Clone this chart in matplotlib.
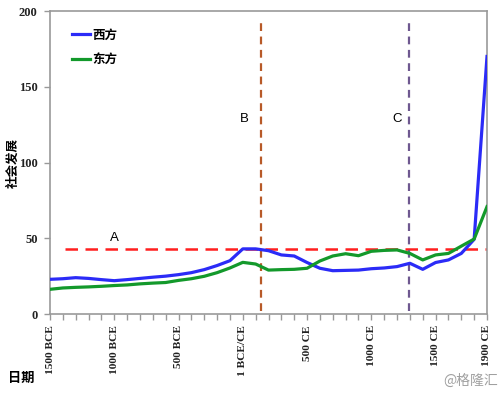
import matplotlib
matplotlib.use("Agg")
import matplotlib.pyplot as plt
from matplotlib.lines import Line2D

plt.rcParams['font.family'] = ['Noto Sans CJK SC', 'DejaVu Sans']

# centuries from 1500 BCE (index 0) to 1900 CE (index 34)
years = list(range(-1500, 2000, 100))
west = [22.9, 23.3, 24.0, 23.5, 22.7, 22.0, 22.7, 23.5, 24.3, 25.0, 26.0, 27.3,
        29.3, 32.0, 35.2, 43.0, 43.0, 41.8, 39.0, 38.3, 34.0, 30.2, 28.6, 28.8,
        29.0, 29.9, 30.4, 31.3, 33.5, 29.5, 34.0, 35.7, 40.0, 49.3, 170.0]
east = [16.3, 17.2, 17.6, 17.9, 18.3, 18.8, 19.2, 19.9, 20.4, 20.8, 22.2, 23.3,
        24.9, 27.3, 30.4, 34.1, 33.0, 29.0, 29.3, 29.5, 30.2, 35.0, 38.3, 39.8,
        38.5, 41.4, 42.0, 42.3, 40.0, 35.7, 39.0, 40.0, 44.8, 49.5, 70.9]
tick_years = [-1500, -1000, -500, 0, 500, 1000, 1500, 1900]
tick_labels = ['1500 BCE', '1000 BCE', '500 BCE', '1 BCE/CE', '500 CE', '1000 CE', '1500 CE', '1900 CE']
y_ticks = [0, 50, 100, 150, 200]
line_a = 43
line_a_start = -1380
line_b = 145
line_c = 1290
series_names = ['西方', '东方']

fig = plt.figure(figsize=(5, 3.94), dpi=100)
ax = fig.add_axes([0.1, 0.203, 0.874, 0.769])

ax.plot([line_a_start, 1900], [line_a, line_a], color='#ff1f1f', lw=1.8,
        dashes=(5, 3), zorder=2)
ax.plot([line_b, line_b], [2, 193], color='#b85a28', lw=1.6, dashes=(3.5, 2.5), zorder=2)
ax.plot([line_c, line_c], [2, 193], color='#6e5890', lw=1.6, dashes=(3.5, 2.5), zorder=2)

ax.plot(years, west, color='#2b2bf7', lw=2.3, zorder=3, solid_joinstyle='round')
ax.plot(years, east, color='#13992b', lw=2.3, zorder=3, solid_joinstyle='round')

ax.text(-1000, 50.5, 'A', fontsize=9.5, family=['Liberation Sans'], ha='center', va='center')
ax.text(15, 129, 'B', fontsize=9.5, family=['Liberation Sans'], ha='center', va='center')
ax.text(1200, 129, 'C', fontsize=9.5, family=['Liberation Sans'], ha='center', va='center')

ax.set_xlim(-1500, 1900)
ax.set_ylim(0, 200)
ax.set_yticks(y_ticks)
ax.set_yticklabels([str(v) for v in y_ticks], family=['Liberation Serif'],
                   fontweight='bold', fontsize=9, color='#222222')
ax.set_xticks(tick_years)
ax.set_xticklabels(tick_labels, rotation=90, family=['Liberation Serif'],
                   fontweight='bold', fontsize=8.2, color='#222222')
ax.set_xticks(years, minor=True)
ax.tick_params(axis='x', which='both', length=4, color='#999999', width=1, pad=4)
ax.tick_params(axis='y', length=4, color='#999999', width=1, pad=5)
for s in ax.spines.values():
    s.set_color('#999999')
    s.set_linewidth(1.2)

fig.text(0.026, 0.586, '社会发展', fontsize=9, fontweight='bold', rotation=90,
         ha='center', va='center')
fig.text(0.016, 0.022, '日期', fontsize=9.5, fontweight='bold', ha='left', va='bottom')
fig.text(0.995, 0.015, '@格隆汇', fontsize=10, color='#a0a0a0', ha='right', va='bottom')

handles = [Line2D([], [], color='#2b2bf7', lw=2.3), Line2D([], [], color='#13992b', lw=2.3)]
ax.legend(handles, series_names, loc='upper left', bbox_to_anchor=(0.025, 0.98),
          frameon=False, handlelength=1.4, handletextpad=0.2, labelspacing=0.95,
          prop={'family': ['Noto Sans CJK SC'], 'weight': 'bold', 'size': 9})

fig.savefig('out.png', dpi=100)
